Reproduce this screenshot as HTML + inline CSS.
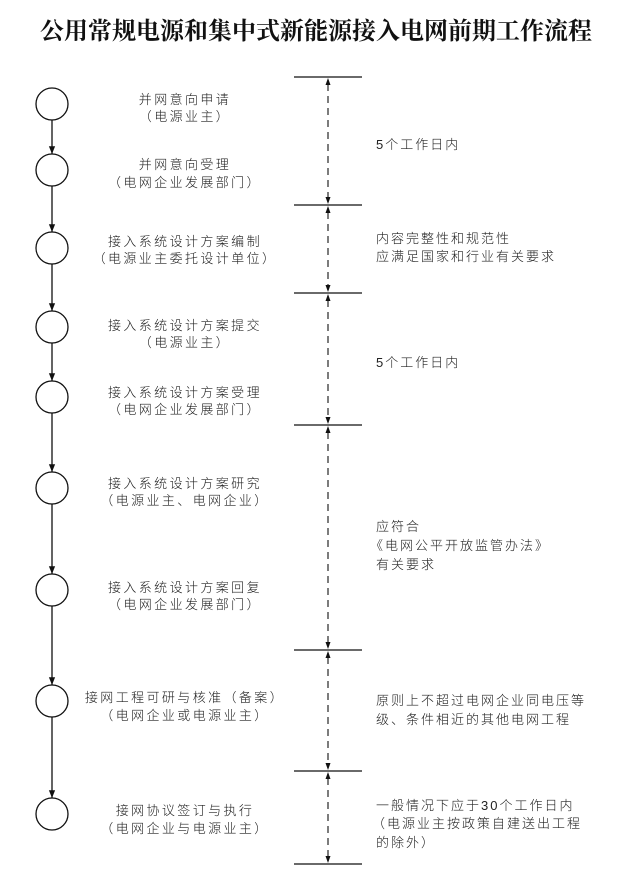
<!DOCTYPE html>
<html><head><meta charset="utf-8"><style>
html,body{margin:0;padding:0;background:#fff;}
svg{display:block;}
text{font-family:"Liberation Serif","Noto Serif CJK SC","Noto Sans CJK SC",serif;fill:#222;}
.l{font-size:13px;letter-spacing:2.4px;text-anchor:middle;font-family:"Liberation Sans","Noto Sans CJK SC",sans-serif;font-weight:300;}
.r{font-size:13px;letter-spacing:2px;font-family:"Liberation Sans","Noto Sans CJK SC",sans-serif;font-weight:300;}
</style></head><body>
<svg width="643" height="881" viewBox="0 0 643 881" xmlns="http://www.w3.org/2000/svg">
<defs>
<marker id="a" viewBox="0 0 10 10" refX="10" refY="5" markerWidth="6" markerHeight="6" orient="auto"><path d="M0,1 L10,5 L0,9 z" fill="#111"/></marker>
</defs>
<text x="316" y="39" font-size="24" font-weight="bold" text-anchor="middle" style="font-family:'Noto Serif CJK SC','Liberation Serif',serif;fill:#111">公用常规电源和集中式新能源接入电网前期工作流程</text>

<g fill="none" stroke="#111" stroke-width="1.3">
<circle cx="52" cy="104" r="16"/><circle cx="52" cy="170" r="16"/><circle cx="52" cy="248" r="16"/>
<circle cx="52" cy="327" r="16"/><circle cx="52" cy="397" r="16"/><circle cx="52" cy="488" r="16"/>
<circle cx="52" cy="590" r="16"/><circle cx="52" cy="701" r="16"/><circle cx="52" cy="814" r="16"/>
</g>
<g stroke="#111" stroke-width="1.3" marker-end="url(#a)">
<line x1="52" y1="120" x2="52" y2="154"/><line x1="52" y1="186" x2="52" y2="232"/>
<line x1="52" y1="264" x2="52" y2="311"/><line x1="52" y1="343" x2="52" y2="381"/>
<line x1="52" y1="413" x2="52" y2="472"/><line x1="52" y1="504" x2="52" y2="574"/>
<line x1="52" y1="606" x2="52" y2="685"/><line x1="52" y1="717" x2="52" y2="798"/>
</g>

<g stroke="#111" stroke-width="1.2">
<line x1="294" y1="77" x2="362" y2="77"/><line x1="294" y1="205" x2="362" y2="205"/>
<line x1="294" y1="293" x2="362" y2="293"/><line x1="294" y1="425" x2="362" y2="425"/>
<line x1="294" y1="650" x2="362" y2="650"/><line x1="294" y1="771" x2="362" y2="771"/>
<line x1="294" y1="864" x2="362" y2="864"/>
</g>
<g stroke="#111" stroke-width="1.1" stroke-dasharray="7,5">
<line x1="328" y1="84" x2="328" y2="199"/>
<line x1="328" y1="212" x2="328" y2="287"/>
<line x1="328" y1="300" x2="328" y2="419"/>
<line x1="328" y1="432" x2="328" y2="644"/>
<line x1="328" y1="657" x2="328" y2="765"/>
<line x1="328" y1="778" x2="328" y2="858"/>
</g>
<g fill="#111">
<path d="M328,78 l-2.5,7 h5z"/><path d="M328,204 l-2.5,-7 h5z"/>
<path d="M328,206 l-2.5,7 h5z"/><path d="M328,292 l-2.5,-7 h5z"/>
<path d="M328,294 l-2.5,7 h5z"/><path d="M328,424 l-2.5,-7 h5z"/>
<path d="M328,426 l-2.5,7 h5z"/><path d="M328,649 l-2.5,-7 h5z"/>
<path d="M328,651 l-2.5,7 h5z"/><path d="M328,770 l-2.5,-7 h5z"/>
<path d="M328,772 l-2.5,7 h5z"/><path d="M328,863 l-2.5,-7 h5z"/>
</g>

<text class="l" x="185" y="104">并网意向申请</text><text class="l" x="185" y="121">（电源业主）</text>
<text class="l" x="185" y="169">并网意向受理</text><text class="l" x="185" y="187">（电网企业发展部门）</text>
<text class="l" x="185" y="246">接入系统设计方案编制</text><text class="l" x="185" y="263">（电源业主委托设计单位）</text>
<text class="l" x="185" y="330">接入系统设计方案提交</text><text class="l" x="185" y="347">（电源业主）</text>
<text class="l" x="185" y="397">接入系统设计方案受理</text><text class="l" x="185" y="414">（电网企业发展部门）</text>
<text class="l" x="185" y="488">接入系统设计方案研究</text><text class="l" x="185" y="505">（电源业主、电网企业）</text>
<text class="l" x="185" y="592">接入系统设计方案回复</text><text class="l" x="185" y="609">（电网企业发展部门）</text>
<text class="l" x="185" y="702">接网工程可研与核准（备案）</text><text class="l" x="185" y="720">（电网企业或电源业主）</text>
<text class="l" x="185" y="815">接网协议签订与执行</text><text class="l" x="185" y="833">（电网企业与电源业主）</text>

<text class="r" x="376" y="149">5个工作日内</text>
<text class="r" x="376" y="243">内容完整性和规范性</text><text class="r" x="376" y="261">应满足国家和行业有关要求</text>
<text class="r" x="376" y="367">5个工作日内</text>
<text class="r" x="376" y="531">应符合</text><text class="r" x="370" y="550">《电网公平开放监管办法》</text><text class="r" x="376" y="569">有关要求</text>
<text class="r" x="376" y="705">原则上不超过电网企业同电压等</text><text class="r" x="376" y="724">级、条件相近的其他电网工程</text>
<text class="r" x="376" y="810">一般情况下应于30个工作日内</text><text class="r" x="372" y="828">（电源业主按政策自建送出工程</text><text class="r" x="376" y="847">的除外）</text>
</svg>
</body></html>
